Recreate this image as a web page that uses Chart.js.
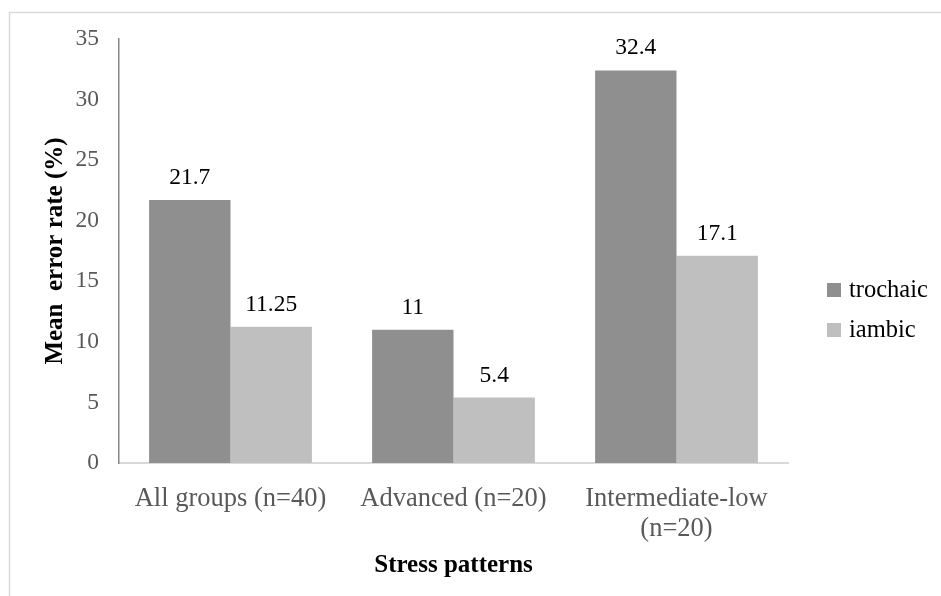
<!DOCTYPE html>
<html>
<head>
<meta charset="utf-8">
<script src="https://cdn.jsdelivr.net/npm/chart.js@4/dist/chart.umd.min.js"></script>
<style>
  html, body { margin: 0; padding: 0; background: #ffffff; }
  #wrap { width: 941px; height: 596px; position: relative; }
</style>
</head>
<body>
<div id="wrap"><canvas id="c" width="941" height="596"></canvas></div>
<script>
// Learner groups along the x axis
const categories = ['All groups (n=40)', 'Advanced (n=20)', ['Intermediate-low', '(n=20)']];
// Mean error rate (%) per stress pattern
const trochaic = [21.7, 11, 32.4];
const iambic = [11.25, 5.4, 17.1];
const seriesNames = ['trochaic', 'iambic'];
const yTicks = [0, 5, 10, 15, 20, 25, 30, 35];

const SERIF = "'Liberation Serif', 'Times New Roman', serif";

// Thin frame along the top and left of the figure, plus white background
const framePlugin = {
  id: 'frame',
  beforeDraw(chart) {
    const ctx = chart.ctx;
    ctx.save();
    ctx.fillStyle = '#ffffff';
    ctx.fillRect(0, 0, chart.width, chart.height);
    ctx.strokeStyle = '#d9d9d9';
    ctx.lineWidth = 1.5;
    ctx.beginPath();
    ctx.moveTo(9.5, chart.height + 5);
    ctx.lineTo(9.5, 12.5);
    ctx.lineTo(chart.width + 5, 12.5);
    ctx.stroke();
    ctx.restore();
  }
};

// Value printed above each bar
const valueLabels = {
  id: 'valueLabels',
  afterDatasetsDraw(chart) {
    const ctx = chart.ctx;
    ctx.save();
    ctx.font = '23.5px ' + SERIF;
    ctx.fillStyle = '#000000';
    ctx.textAlign = 'center';
    ctx.textBaseline = 'alphabetic';
    chart.data.datasets.forEach((ds, i) => {
      chart.getDatasetMeta(i).data.forEach((bar, j) => {
        ctx.fillText(String(ds.data[j]), bar.x, bar.y - 16);
      });
    });
    ctx.restore();
  }
};

// Legend on the right: square swatch + series name
const sideLegend = {
  id: 'sideLegend',
  afterDraw(chart) {
    const ctx = chart.ctx;
    ctx.save();
    ctx.font = '24.5px ' + SERIF;
    ctx.textAlign = 'left';
    ctx.textBaseline = 'alphabetic';
    const x0 = 827, y0 = 283, step = 40, box = 14;
    chart.data.datasets.forEach((ds, i) => {
      const y = y0 + i * step;
      ctx.fillStyle = ds.backgroundColor;
      ctx.fillRect(x0, y, box, box);
      ctx.fillStyle = '#000000';
      ctx.fillText(ds.label, x0 + 22, y + 14);
    });
    ctx.restore();
  }
};

new Chart(document.getElementById('c'), {
  type: 'bar',
  data: {
    labels: categories,
    datasets: [
      { label: seriesNames[0], data: trochaic, backgroundColor: '#8f8f8f', borderWidth: 0 },
      { label: seriesNames[1], data: iambic, backgroundColor: '#bfbfbf', borderWidth: 0 }
    ]
  },
  options: {
    responsive: false,
    animation: false,
    devicePixelRatio: 1,
    layout: { padding: { left: 0, top: 39, right: 153, bottom: 0 } },
    plugins: {
      legend: { display: false },
      tooltip: { enabled: false }
    },
    datasets: {
      bar: { categoryPercentage: 0.73, barPercentage: 1.0 }
    },
    scales: {
      x: {
        grid: { display: false, drawTicks: false },
        border: { display: true, color: '#d9d9d9', width: 2 },
        ticks: {
          color: '#595959',
          font: { family: SERIF, size: 26.5, lineHeight: 1.13 },
          padding: 21,
          maxRotation: 0,
          autoSkip: false
        },
        title: {
          display: true,
          text: 'Stress patterns',
          color: '#000000',
          font: { family: SERIF, size: 25, weight: 'bold', lineHeight: 1.2 },
          padding: { top: 0, bottom: 15 }
        },
        afterFit(scale) { scale.height = 133; }
      },
      y: {
        min: 0,
        max: 35,
        afterBuildTicks(scale) { scale.ticks = yTicks.map(v => ({ value: v })); },
        grid: { display: false, drawTicks: false },
        border: { display: true, color: '#868686', width: 1.5 },
        ticks: {
          color: '#595959',
          font: { family: SERIF, size: 23.5 },
          padding: 20
        },
        title: {
          display: true,
          text: 'Mean  error rate (%)',
          color: '#000000',
          font: { family: SERIF, size: 25, weight: 'bold', lineHeight: 1.2 },
          padding: { top: 41, bottom: 0 }
        },
        afterFit(scale) { scale.width = 119; }
      }
    }
  },
  plugins: [framePlugin, valueLabels, sideLegend]
});
</script>
</body>
</html>
